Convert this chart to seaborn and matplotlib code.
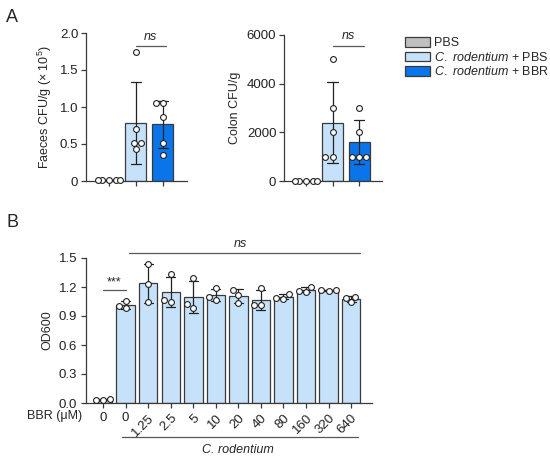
import numpy as np
import pandas as pd
import matplotlib
matplotlib.use("Agg")
import matplotlib.pyplot as plt
import matplotlib.patches as mpatches
import seaborn as sns

# ---- data ----
groups_A = ["PBS", "C. rodentium + PBS", "C. rodentium + BBR"]
faeces_pbs = [0.01, 0.01, 0.01, 0.01, 0.01]
faeces_crod_pbs = [1.75, 0.70, 0.52, 0.52, 0.43]
faeces_crod_bbr = [1.05, 1.05, 0.87, 0.52, 0.35]
colon_pbs = [20, 20, 20, 20, 20]
colon_crod_pbs = [5000, 3000, 2000, 1000, 1000]
colon_crod_bbr = [3000, 2000, 1000, 1000, 1000]

bbr_labels = ["0", "0", "1.25", "2.5", "5", "10", "20", "40", "80", "160", "320", "640"]
od600 = [
    [0.03, 0.04, 0.03],
    [1.06, 0.98, 1.00],
    [1.44, 1.23, 1.04],
    [1.33, 1.045, 1.07],
    [1.29, 0.98, 1.02],
    [1.19, 1.07, 1.10],
    [1.17, 1.12, 1.03],
    [1.19, 1.01, 1.01],
    [1.13, 1.08, 1.09],
    [1.20, 1.15, 1.16],
    [1.17, 1.16, 1.17],
    [1.10, 1.09, 1.04],
]

col_gray = "#c0c0c0"
col_light = "#c6e2fa"
col_blue = "#0a74ea"
edge = "#3a3a3a"
line_col = "#5e5555"

sns.set_style("ticks")
plt.rcParams["font.family"] = ["Liberation Sans", "DejaVu Sans"]
plt.rcParams["mathtext.fontset"] = "custom"
plt.rcParams["mathtext.rm"] = "Liberation Sans"
plt.rcParams["mathtext.it"] = "Liberation Sans:italic"
plt.rcParams["axes.edgecolor"] = edge
plt.rcParams["axes.linewidth"] = 0.9
plt.rcParams["xtick.color"] = edge
plt.rcParams["ytick.color"] = edge
plt.rcParams["xtick.labelcolor"] = "#222"
plt.rcParams["ytick.labelcolor"] = "#222"

FS = 9       # labels
TFS = 9.5    # tick labels


def long_df(values_list, names):
    rows = []
    for name, vals in zip(names, values_list):
        for v in vals:
            rows.append({"group": name, "value": v})
    return pd.DataFrame(rows)


def bar_dots(ax, df, order, palette, width, dotsize=4.2):
    sns.barplot(data=df, x="group", y="value", hue="group", order=order,
                hue_order=order, palette=palette, legend=False, errorbar="sd",
                capsize=0.4, width=width, edgecolor=edge, linewidth=0.9,
                saturation=1, err_kws={"color": "#222", "linewidth": 0.9}, ax=ax)
    sns.swarmplot(data=df, x="group", y="value", order=order, color="white",
                  edgecolor="#222", linewidth=0.8, size=dotsize, ax=ax,
                  clip_on=False)
    for c in ax.collections:
        c.set_clip_on(False)
        c.set_zorder(5)


fig = plt.figure(figsize=(5.5, 4.62), dpi=100)

# ---- Panel A, faeces ----
ax1 = fig.add_axes([86 / 550, 1 - 181 / 462, 101 / 550, 148 / 462])
df1 = long_df([faeces_pbs, faeces_crod_pbs, faeces_crod_bbr], groups_A)
bar_dots(ax1, df1, groups_A, [col_gray, col_light, col_blue], 0.78)
ax1.set_ylim(0, 2.0)
ax1.set_xlim(-0.85, 2.89)
ax1.set_yticks([0, 0.5, 1.0, 1.5, 2.0])
ax1.set_yticklabels(["0", "0.5", "1.0", "1.5", "2.0"], fontsize=TFS)
ax1.set_xticklabels([])
ax1.set_xlabel("")
ax1.set_ylabel("Faeces CFU/g (× 10$^{5}$)", fontsize=FS)
ax1.plot([1.0, 2.1], [1.82, 1.82], color=line_col, lw=0.9, clip_on=False)
ax1.text(1.55, 1.86, "ns", style="italic", ha="center", va="bottom", fontsize=FS)

# ---- Panel A, colon ----
ax2 = fig.add_axes([284 / 550, 1 - 181 / 462, 98 / 550, 146 / 462])
df2 = long_df([colon_pbs, colon_crod_pbs, colon_crod_bbr], groups_A)
bar_dots(ax2, df2, groups_A, [col_gray, col_light, col_blue], 0.78)
ax2.set_ylim(0, 6000)
ax2.set_xlim(-0.83, 2.86)
ax2.set_yticks([0, 2000, 4000, 6000])
ax2.set_yticklabels(["0", "2000", "4000", "6000"], fontsize=TFS)
ax2.set_xticklabels([])
ax2.set_xlabel("")
ax2.set_ylabel("Colon CFU/g", fontsize=FS)
ax2.plot([1.0, 2.2], [5560, 5560], color=line_col, lw=0.9, clip_on=False)
ax2.text(1.6, 5700, "ns", style="italic", ha="center", va="bottom", fontsize=FS)

for ax in (ax1, ax2):
    sns.despine(ax=ax)
    ax.tick_params(length=3.5, width=0.9, pad=2)

# legend
handles = [
    mpatches.Patch(facecolor=col_gray, edgecolor=edge, linewidth=0.9, label="PBS"),
    mpatches.Patch(facecolor=col_light, edgecolor=edge, linewidth=0.9,
                   label=r"$\it{C.}$ $\it{rodentium}$ + PBS"),
    mpatches.Patch(facecolor=col_blue, edgecolor=edge, linewidth=0.9,
                   label=r"$\it{C.}$ $\it{rodentium}$ + BBR"),
]
fig.legend(handles=handles, loc="upper left", bbox_to_anchor=(400 / 550, 1 - 32 / 462),
           frameon=False, fontsize=FS, handlelength=2.0, handleheight=0.8,
           handletextpad=0.3, labelspacing=0.12, borderaxespad=0)

# ---- Panel B ----
ax3 = fig.add_axes([86 / 550, 1 - 403 / 462, 286 / 550, 145 / 462])
names_B = [f"{i}_{lab}" for i, lab in enumerate(bbr_labels)]
df3 = long_df(od600, names_B)
bar_dots(ax3, df3, names_B, [col_light] * len(names_B), 0.82, dotsize=4.2)
ax3.set_ylim(0, 1.5)
ax3.set_xlim(-0.76, 11.93)
ax3.set_yticks(np.arange(0, 1.51, 0.3))
ax3.set_yticklabels([f"{v:.1f}" for v in np.arange(0, 1.51, 0.3)], fontsize=TFS)
ax3.set_xticks(range(len(bbr_labels)))
ax3.set_xticklabels(bbr_labels, fontsize=TFS)
for i, lab in enumerate(ax3.get_xticklabels()):
    if i >= 2:
        lab.set_rotation(45)
        lab.set_ha("right")
        lab.set_va("top")
        lab.set_rotation_mode("anchor")
ax3.set_xlabel("")
ax3.set_ylabel("OD600", fontsize=FS)
sns.despine(ax=ax3)
ax3.tick_params(length=3.5, width=0.9, pad=3)

ax3.plot([0, 1], [1.17, 1.17], color=line_col, lw=0.9, clip_on=False)
ax3.text(0.5, 1.19, "***", ha="center", va="bottom", fontsize=FS)
ax3.plot([1.15, 11.4], [1.55, 1.55], color=line_col, lw=0.9, clip_on=False)
ax3.text(6.1, 1.58, "ns", style="italic", ha="center", va="bottom", fontsize=FS)

ax3.plot([0.84, 11.3], [-0.35, -0.35], color=line_col, lw=0.9, clip_on=False)
ax3.text(6.0, -0.42, "C. rodentium", style="italic", ha="center", va="top", fontsize=FS)
ax3.text(-0.95, -0.135, "BBR (μM)", ha="right", va="center", fontsize=FS)

fig.text(6 / 550, 1 - 18 / 462, "A", fontsize=13, va="center", ha="left")
fig.text(6 / 550, 1 - 222 / 462, "B", fontsize=13, va="center", ha="left")

fig.savefig("out.png", dpi=100)
